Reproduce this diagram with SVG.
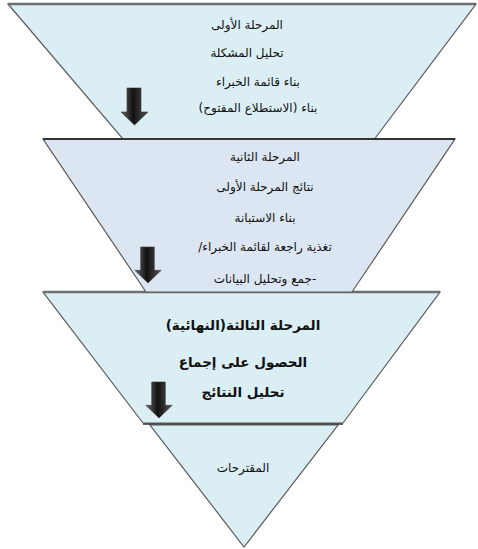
<svg xmlns="http://www.w3.org/2000/svg" width="478" height="549" viewBox="0 0 478 549">
<style>
.sh{stroke:#5a5a5a;stroke-width:1.2}
.t{font-family:"DejaVu Sans",sans-serif;font-size:12px;fill:#111;text-anchor:middle;direction:rtl}
.tb{font-family:"DejaVu Sans",sans-serif;font-size:13.5px;font-weight:bold;fill:#111;text-anchor:middle;direction:rtl}
.top{stroke:#6e6e6e;stroke-width:2.5}
</style>
<defs>
<linearGradient id="ag" x1="0" y1="0" x2="1" y2="0">
<stop offset="0" stop-color="#6a6a6a"/>
<stop offset="0.45" stop-color="#111"/>
<stop offset="1" stop-color="#555"/>
</linearGradient>
<symbol id="arr" viewBox="0 0 27 37" overflow="visible">
<path d="M6 0 H20 V24 H27 L13.5 37 L0 24 H6 Z" fill="url(#ag)" stroke="#333" stroke-width="0.6"/>
</symbol>
</defs>
<g id="stage4">
<polygon points="150,425 338,425 244,547" fill="#dbeef4" class="sh"/>
<text class="t" x="243" y="472">&#x200F;المقترحات&#x200F;</text>
</g>
<g id="stage3">
<polygon points="43,292 440,292 343,423 143,423" fill="#dbeef4" class="sh"/>
<line x1="43" y1="292" x2="440" y2="292" class="top"/>
<line x1="143" y1="424" x2="343" y2="424" stroke="#333" stroke-width="1.5"/>
<text class="tb" x="243" y="330">&#x200F;المرحلة الثالثة(النهائية)&#x200F;</text>
<text class="tb" x="243" y="367">&#x200F;الحصول على إجماع&#x200F;</text>
<text class="tb" x="243" y="397">&#x200F;تحليل النتائج&#x200F;</text>
<use href="#arr" x="145" y="382" width="28" height="36"/>
</g>
<g id="stage1">
<polygon points="8,4 476,4 370,145 128,145" fill="#dbeef4" class="sh"/>
<line x1="8" y1="4" x2="476" y2="4" class="top"/>
<text class="t" x="247" y="29">&#x200F;المرحلة الأولى&#x200F;</text>
<text class="t" x="247" y="57">&#x200F;تحليل المشكلة&#x200F;</text>
<text class="t" x="258" y="86">&#x200F;بناء قائمة الخبراء&#x200F;</text>
<text class="t" x="258" y="112">&#x200F;بناء (الاستطلاع المفتوح)&#x200F;</text>
<use href="#arr" x="121" y="88" width="27" height="37"/>
</g>
<g id="stage2">
<polygon points="43,139 455,139 352,292 146,292" fill="#dce6f2" class="sh"/>
<line x1="43" y1="139" x2="455" y2="139" stroke="#333" stroke-width="2"/>
<text class="t" x="265" y="161">&#x200F;المرحلة الثانية&#x200F;</text>
<text class="t" x="265" y="191">&#x200F;نتائج المرحلة الأولى&#x200F;</text>
<text class="t" x="265" y="222">&#x200F;بناء الاستبانة&#x200F;</text>
<text class="t" x="265" y="251">&#x200F;تغذية راجعة لقائمة الخبراء/&#x200F;</text>
<text class="t" x="265" y="283">&#x200F;-جمع وتحليل البيانات&#x200F;</text>
<use href="#arr" x="134" y="247" width="28" height="36"/>
</g>
<g id="connectors"></g>
</svg>
